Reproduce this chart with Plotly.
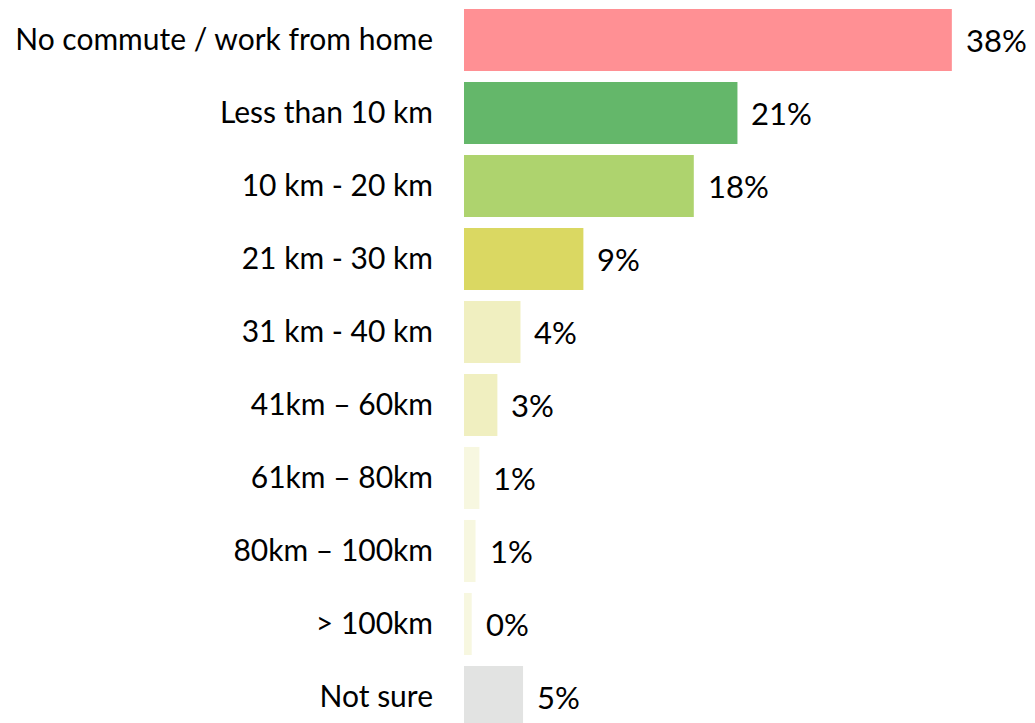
import plotly.graph_objects as go


categories = [
    "No commute / work from home",
    "Less than 10 km",
    "10 km - 20 km",
    "21 km - 30 km",
    "31 km - 40 km",
    "41km \u2013 60km",
    "61km \u2013 80km",
    "80km \u2013 100km",
    "> 100km",
    "Not sure",
]
shares = [38.0, 21.3, 17.9, 9.3, 4.4, 2.6, 1.2, 0.9, 0.6, 4.6]
share_labels = ["38%", "21%", "18%", "9%", "4%", "3%", "1%", "1%", "0%", "5%"]
bar_colors = [
    "#ff9094", "#64b76a", "#aed36e", "#dad862", "#f0efc0",
    "#f0efc0", "#f7f7e0", "#f7f7e0", "#f7f7e0", "#e2e3e2",
]

FONT = "Lato, 'Open Sans', sans-serif"

fig = go.Figure(
    go.Bar(
        x=shares,
        y=categories,
        orientation="h",
        width=0.85,
        marker={"color": bar_colors, "line": {"width": 0}},
        hoverinfo="skip",
    )
)

for cat, val, lab in zip(categories, shares, share_labels):
    fig.add_annotation(
        x=val,
        y=cat,
        text=lab,
        showarrow=False,
        xanchor="left",
        xshift=12,
        font={"size": 31, "color": "#000000", "family": FONT},
    )

# the page body adds an 8px offset, so the margins are trimmed to match
fig.update_layout(
    width=1035,
    height=723,
    paper_bgcolor="white",
    plot_bgcolor="white",
    margin={"l": 456, "r": 0, "t": 0, "b": 0, "autoexpand": False},
    showlegend=False,
    font={"family": FONT, "color": "#000000"},
    xaxis={
        "range": [0, 45.1],
        "visible": False,
        "fixedrange": True,
        "automargin": False,
    },
    yaxis={
        "range": [9.466, -0.438],
        "showgrid": False,
        "zeroline": False,
        "showline": False,
        "ticks": "",
        "automargin": False,
        "ticklabelstandoff": 30,
        "tickfont": {"size": 30, "color": "#000000", "family": FONT},
        "fixedrange": True,
    },
)

fig.write_html("out.html")
